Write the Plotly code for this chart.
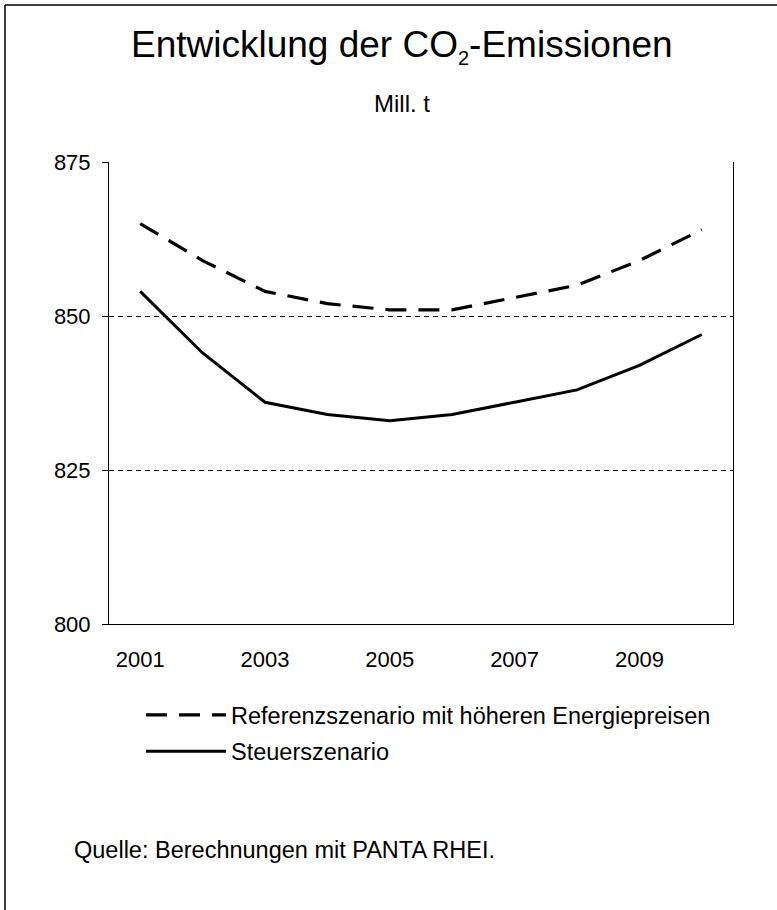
import plotly.graph_objects as go

years = [2001, 2002, 2003, 2004, 2005, 2006, 2007, 2008, 2009, 2010]
referenz = [865, 859, 854, 852, 851, 851, 853, 855, 859, 864]
steuer = [854, 844, 836, 834, 833, 834, 836, 838, 842, 847]
x_ticks = [2001, 2003, 2005, 2007, 2009]
y_ticks = [800, 825, 850, 875]

FONT = "Liberation Sans, Arial, sans-serif"
W, H = 777, 910
L, R, T, B = 109, 44, 162, 286
pw, ph = W - L - R, H - T - B

def px_x(x):
    return (x - L) / pw

def px_y(y):
    return (H - B - y) / ph

fig = go.Figure()
fig.add_trace(go.Scatter(x=years, y=referenz, mode="lines",
                         name="Referenzszenario mit höheren Energiepreisen",
                         legendgroup="a",
                         line=dict(color="black", width=3.2, dash="21px,12px")))
fig.add_trace(go.Scatter(x=years, y=steuer, mode="lines",
                         name="Steuerszenario",
                         legendgroup="b",
                         line=dict(color="black", width=3)))

fig.update_layout(
    width=W, height=H,
    margin=dict(l=L, r=R, t=T, b=B, autoexpand=False),
    paper_bgcolor="white", plot_bgcolor="white",
    font=dict(family=FONT, size=22, color="black"),
    showlegend=True,
    legend=dict(x=px_x(141), y=px_y(693), xanchor="left", yanchor="top",
                font=dict(family=FONT, size=23.5, color="black"),
                itemwidth=80, tracegroupgap=3, bgcolor="rgba(0,0,0,0)"),
    xaxis=dict(range=[2000.5, 2010.5], tickvals=x_ticks,
               ticktext=[str(v) for v in x_ticks],
               showgrid=False, zeroline=False, showline=True,
               linecolor="black", linewidth=1, ticks="",
               ticklabelstandoff=16,
               tickfont=dict(family=FONT, size=22, color="black")),
    yaxis=dict(range=[800, 875], tickvals=y_ticks,
               showgrid=True, gridcolor="black", gridwidth=1, griddash="5px,4px",
               zeroline=False, showline=True, mirror=True,
               linecolor="black", linewidth=1,
               ticks="outside", ticklen=6, tickcolor="black",
               ticklabelstandoff=7,
               tickfont=dict(family=FONT, size=22, color="black")),
    annotations=[
        dict(text="Entwicklung der CO<sub><span style='font-size:20px'>2</span></sub>-Emissionen",
             xref="paper", yref="paper",
             x=px_x(402), y=px_y(47), xanchor="center", yanchor="middle",
             showarrow=False, font=dict(family=FONT, size=37, color="black")),
        dict(text="Mill. t", xref="paper", yref="paper",
             x=px_x(402), y=px_y(104), xanchor="center", yanchor="middle",
             showarrow=False, font=dict(family=FONT, size=24, color="black")),
        dict(text="Quelle: Berechnungen mit PANTA RHEI.", xref="paper", yref="paper",
             x=px_x(72), y=px_y(850), xanchor="left", yanchor="middle",
             showarrow=False, font=dict(family=FONT, size=23.5, color="black")),
    ],
    shapes=[
        dict(type="line", xref="paper", yref="paper",
             x0=px_x(5), x1=px_x(5), y0=px_y(5), y1=px_y(910),
             line=dict(color="black", width=1.5)),
        dict(type="line", xref="paper", yref="paper",
             x0=px_x(5), x1=px_x(777), y0=px_y(5), y1=px_y(5),
             line=dict(color="black", width=1.5)),
    ],
)

fig.write_html("out.html", config={"displayModeBar": False},
               post_script="document.body.style.margin='0px';")
